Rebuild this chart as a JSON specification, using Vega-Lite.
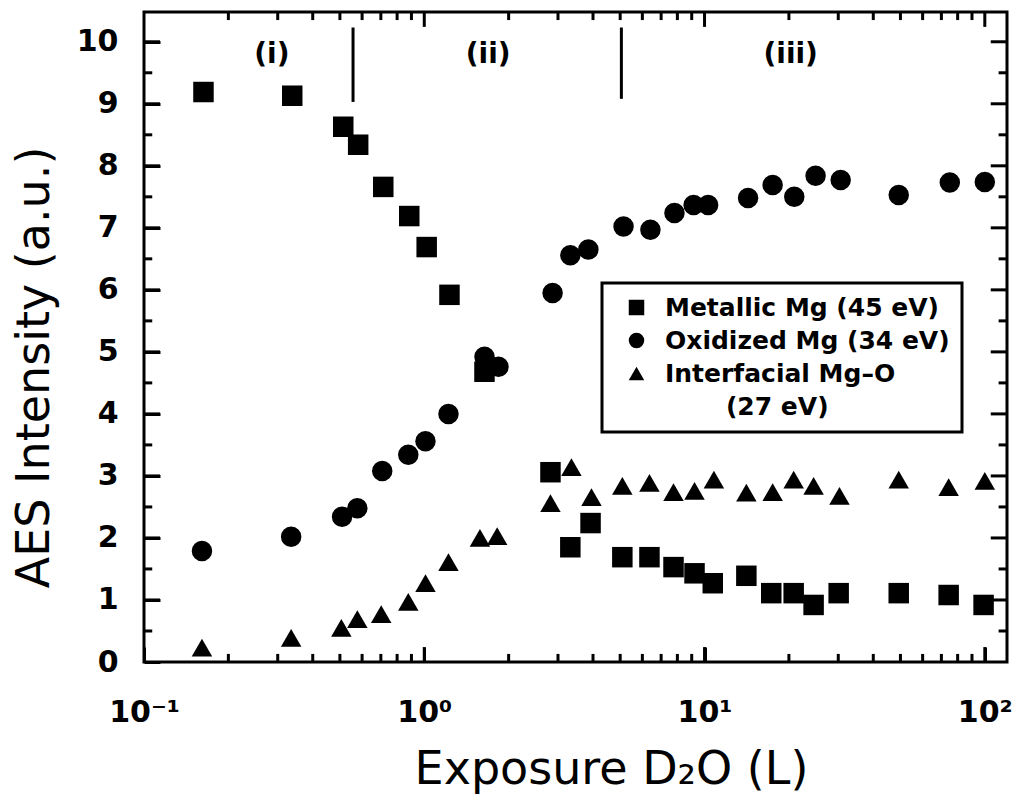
{
  "$schema": "https://vega.github.io/schema/vega-lite/v6.json",
  "width": 863,
  "height": 650,
  "autosize": {"type": "none"},
  "padding": {"left": 144, "top": 12, "right": 23, "bottom": 143},
  "background": "white",
  "config": {
    "view": {"stroke": "black", "strokeWidth": 3, "fill": "transparent"},
    "axis": {"domain": false, "grid": false, "ticks": true, "zindex": 2, "tickColor": "black", "tickWidth": 3, "labelColor": "black", "titleColor": "black",
             "labelFont": "DejaVu Sans", "labelFontWeight": "bold", "labelFontSize": 30,
             "titleFont": "DejaVu Sans", "titleFontWeight": "normal", "titleFontSize": 46},
    "legend": {"strokeWidth": 3},
    "style": {"guide-label": {"lineHeight": 33}}
  },
  "datasets": {
    "pts": [
      {"series": "Metallic Mg (45 eV)", "x": 0.163, "y": 9.19},
      {"series": "Metallic Mg (45 eV)", "x": 0.338, "y": 9.13},
      {"series": "Metallic Mg (45 eV)", "x": 0.514, "y": 8.63},
      {"series": "Metallic Mg (45 eV)", "x": 0.581, "y": 8.34},
      {"series": "Metallic Mg (45 eV)", "x": 0.714, "y": 7.66},
      {"series": "Metallic Mg (45 eV)", "x": 0.884, "y": 7.19},
      {"series": "Metallic Mg (45 eV)", "x": 1.02, "y": 6.69},
      {"series": "Metallic Mg (45 eV)", "x": 1.23, "y": 5.92},
      {"series": "Metallic Mg (45 eV)", "x": 1.64, "y": 4.68},
      {"series": "Metallic Mg (45 eV)", "x": 2.82, "y": 3.06},
      {"series": "Metallic Mg (45 eV)", "x": 3.32, "y": 1.85},
      {"series": "Metallic Mg (45 eV)", "x": 3.92, "y": 2.24},
      {"series": "Metallic Mg (45 eV)", "x": 5.09, "y": 1.69},
      {"series": "Metallic Mg (45 eV)", "x": 6.36, "y": 1.69},
      {"series": "Metallic Mg (45 eV)", "x": 7.75, "y": 1.53},
      {"series": "Metallic Mg (45 eV)", "x": 9.21, "y": 1.43},
      {"series": "Metallic Mg (45 eV)", "x": 10.7, "y": 1.27},
      {"series": "Metallic Mg (45 eV)", "x": 14.1, "y": 1.39},
      {"series": "Metallic Mg (45 eV)", "x": 17.3, "y": 1.11},
      {"series": "Metallic Mg (45 eV)", "x": 20.8, "y": 1.11},
      {"series": "Metallic Mg (45 eV)", "x": 24.5, "y": 0.92},
      {"series": "Metallic Mg (45 eV)", "x": 30.1, "y": 1.11},
      {"series": "Metallic Mg (45 eV)", "x": 49.3, "y": 1.11},
      {"series": "Metallic Mg (45 eV)", "x": 74.3, "y": 1.08},
      {"series": "Metallic Mg (45 eV)", "x": 99, "y": 0.92},
      {"series": "Oxidized Mg (34 eV)", "x": 0.161, "y": 1.79},
      {"series": "Oxidized Mg (34 eV)", "x": 0.335, "y": 2.02},
      {"series": "Oxidized Mg (34 eV)", "x": 0.509, "y": 2.34},
      {"series": "Oxidized Mg (34 eV)", "x": 0.577, "y": 2.48},
      {"series": "Oxidized Mg (34 eV)", "x": 0.708, "y": 3.08},
      {"series": "Oxidized Mg (34 eV)", "x": 0.877, "y": 3.34},
      {"series": "Oxidized Mg (34 eV)", "x": 1.01, "y": 3.56},
      {"series": "Oxidized Mg (34 eV)", "x": 1.22, "y": 4.0},
      {"series": "Oxidized Mg (34 eV)", "x": 1.64, "y": 4.92},
      {"series": "Oxidized Mg (34 eV)", "x": 1.84, "y": 4.76},
      {"series": "Oxidized Mg (34 eV)", "x": 2.87, "y": 5.95},
      {"series": "Oxidized Mg (34 eV)", "x": 3.32, "y": 6.56},
      {"series": "Oxidized Mg (34 eV)", "x": 3.85, "y": 6.65},
      {"series": "Oxidized Mg (34 eV)", "x": 5.14, "y": 7.02},
      {"series": "Oxidized Mg (34 eV)", "x": 6.41, "y": 6.97},
      {"series": "Oxidized Mg (34 eV)", "x": 7.81, "y": 7.24},
      {"series": "Oxidized Mg (34 eV)", "x": 9.14, "y": 7.37},
      {"series": "Oxidized Mg (34 eV)", "x": 10.3, "y": 7.37},
      {"series": "Oxidized Mg (34 eV)", "x": 14.3, "y": 7.48},
      {"series": "Oxidized Mg (34 eV)", "x": 17.5, "y": 7.69},
      {"series": "Oxidized Mg (34 eV)", "x": 20.9, "y": 7.5},
      {"series": "Oxidized Mg (34 eV)", "x": 24.9, "y": 7.84},
      {"series": "Oxidized Mg (34 eV)", "x": 30.6, "y": 7.77},
      {"series": "Oxidized Mg (34 eV)", "x": 49.3, "y": 7.53},
      {"series": "Oxidized Mg (34 eV)", "x": 75, "y": 7.73},
      {"series": "Oxidized Mg (34 eV)", "x": 100, "y": 7.74},
      {"series": "Interfacial Mg–O (27 eV)", "x": 0.161, "y": 0.23},
      {"series": "Interfacial Mg–O (27 eV)", "x": 0.335, "y": 0.39},
      {"series": "Interfacial Mg–O (27 eV)", "x": 0.506, "y": 0.55},
      {"series": "Interfacial Mg–O (27 eV)", "x": 0.577, "y": 0.69},
      {"series": "Interfacial Mg–O (27 eV)", "x": 0.702, "y": 0.77},
      {"series": "Interfacial Mg–O (27 eV)", "x": 0.877, "y": 0.97},
      {"series": "Interfacial Mg–O (27 eV)", "x": 1.01, "y": 1.27},
      {"series": "Interfacial Mg–O (27 eV)", "x": 1.22, "y": 1.61},
      {"series": "Interfacial Mg–O (27 eV)", "x": 1.58, "y": 2.0},
      {"series": "Interfacial Mg–O (27 eV)", "x": 1.82, "y": 2.03},
      {"series": "Interfacial Mg–O (27 eV)", "x": 2.82, "y": 2.56},
      {"series": "Interfacial Mg–O (27 eV)", "x": 3.35, "y": 3.14},
      {"series": "Interfacial Mg–O (27 eV)", "x": 3.95, "y": 2.66},
      {"series": "Interfacial Mg–O (27 eV)", "x": 5.09, "y": 2.84},
      {"series": "Interfacial Mg–O (27 eV)", "x": 6.36, "y": 2.89},
      {"series": "Interfacial Mg–O (27 eV)", "x": 7.75, "y": 2.74},
      {"series": "Interfacial Mg–O (27 eV)", "x": 9.21, "y": 2.76},
      {"series": "Interfacial Mg–O (27 eV)", "x": 10.8, "y": 2.94},
      {"series": "Interfacial Mg–O (27 eV)", "x": 14.1, "y": 2.73},
      {"series": "Interfacial Mg–O (27 eV)", "x": 17.5, "y": 2.74},
      {"series": "Interfacial Mg–O (27 eV)", "x": 20.8, "y": 2.94},
      {"series": "Interfacial Mg–O (27 eV)", "x": 24.5, "y": 2.84},
      {"series": "Interfacial Mg–O (27 eV)", "x": 30.3, "y": 2.68},
      {"series": "Interfacial Mg–O (27 eV)", "x": 49.3, "y": 2.94},
      {"series": "Interfacial Mg–O (27 eV)", "x": 74.3, "y": 2.82},
      {"series": "Interfacial Mg–O (27 eV)", "x": 100, "y": 2.92}
    ],
    "dividers": [
      {"x": 0.557, "y": 9.03, "y2": 10.23},
      {"x": 5.05, "y": 9.08, "y2": 10.23}
    ],
    "regions": [
      {"label": "(i)", "x": 0.286, "y": 9.79},
      {"label": "(ii)", "x": 1.69, "y": 9.79},
      {"label": "(iii)", "x": 20.3, "y": 9.79}
    ],
    "xticks": [
      {"v": 0.2, "kind": "minor"}, {"v": 0.3, "kind": "minor"}, {"v": 0.4, "kind": "minor"}, {"v": 0.5, "kind": "minor"},
      {"v": 0.6, "kind": "minor"}, {"v": 0.7, "kind": "minor"}, {"v": 0.8, "kind": "minor"}, {"v": 0.9, "kind": "minor"},
      {"v": 1, "kind": "major"},
      {"v": 2, "kind": "minor"}, {"v": 3, "kind": "minor"}, {"v": 4, "kind": "minor"}, {"v": 5, "kind": "minor"},
      {"v": 6, "kind": "minor"}, {"v": 7, "kind": "minor"}, {"v": 8, "kind": "minor"}, {"v": 9, "kind": "minor"},
      {"v": 10, "kind": "major"},
      {"v": 20, "kind": "minor"}, {"v": 30, "kind": "minor"}, {"v": 40, "kind": "minor"}, {"v": 50, "kind": "minor"},
      {"v": 60, "kind": "minor"}, {"v": 70, "kind": "minor"}, {"v": 80, "kind": "minor"}, {"v": 90, "kind": "minor"},
      {"v": 100, "kind": "major"}
    ],
    "yticks": [
      {"v": 0.5, "kind": "minor"}, {"v": 1, "kind": "major"}, {"v": 1.5, "kind": "minor"}, {"v": 2, "kind": "major"},
      {"v": 2.5, "kind": "minor"}, {"v": 3, "kind": "major"}, {"v": 3.5, "kind": "minor"}, {"v": 4, "kind": "major"},
      {"v": 4.5, "kind": "minor"}, {"v": 5, "kind": "major"}, {"v": 5.5, "kind": "minor"}, {"v": 6, "kind": "major"},
      {"v": 6.5, "kind": "minor"}, {"v": 7, "kind": "major"}, {"v": 7.5, "kind": "minor"}, {"v": 8, "kind": "major"},
      {"v": 8.5, "kind": "minor"}, {"v": 9, "kind": "major"}, {"v": 9.5, "kind": "minor"}, {"v": 10, "kind": "major"}
    ]
  },
  "resolve": {"axis": {"x": "independent", "y": "independent"}},
  "layer": [
    {
      "data": {"name": "pts"},
      "mark": {"type": "point", "filled": true, "opacity": 1, "color": "black", "size": 420},
      "encoding": {
        "x": {"field": "x", "type": "quantitative",
              "scale": {"type": "log", "domain": [0.1, 120], "nice": false},
              "axis": {"orient": "bottom", "title": "Exposure D₂O (L)", "zindex": 2,
                       "values": [0.1, 1, 10, 100],
                       "labelExpr": "datum.value == 0.1 ? '10⁻¹' : datum.value == 1 ? '10⁰' : datum.value == 10 ? '10¹' : datum.value == 100 ? '10²' : ''",
                       "tickSize": 15, "offset": -15,
                       "labelPadding": 35, "labelFlush": false, "labelOverlap": false,
                       "titleX": 467, "titleY": 136, "titleBaseline": "alphabetic"}},
        "y": {"field": "y", "type": "quantitative",
              "scale": {"domain": [0, 10.48], "nice": false, "zero": false},
              "axis": {"orient": "left", "title": "AES Intensity (a.u.)", "zindex": 2,
                       "values": [0,1,2,3,4,5,6,7,8,9,10],
                       "tickSize": 16, "offset": -16,
                       "labelPadding": 26, "labelFlush": false, "labelOverlap": false,
                       "titleX": -126, "titleY": 355, "titleBaseline": "middle", "titleAngle": -90}},
        "shape": {"field": "series", "type": "nominal",
                  "scale": {"domain": ["Metallic Mg (45 eV)", "Oxidized Mg (34 eV)", "Interfacial Mg–O (27 eV)"],
                            "range": ["square", "circle", "triangle-up"]},
                  "legend": {"title": null, "orient": "none", "legendX": 458, "legendY": 271,
                             "strokeColor": "black", "padding": 12, "rowPadding": 7,
                             "labelFont": "DejaVu Sans", "labelFontWeight": "bold", "labelFontSize": 25, "labelColor": "black",
                             "symbolSize": 240, "symbolFillColor": "black", "symbolStrokeColor": "black", "symbolStrokeWidth": 0,
                             "symbolOffset": 10, "labelLimit": 400, "labelOffset": 16,
                             "labelExpr": "datum.label == 'Interfacial Mg–O (27 eV)' ? ['Interfacial Mg–O', '\u200b\u00a0\u00a0\u00a0\u00a0\u00a0\u00a0\u00a0(27 eV)'] : datum.label"}}
      }
    },
    {
      "data": {"name": "dividers"},
      "mark": {"type": "rule", "color": "black", "strokeWidth": 3},
      "encoding": {
        "x": {"field": "x", "type": "quantitative", "scale": {"type": "log", "domain": [0.1, 120], "nice": false}, "axis": null},
        "y": {"field": "y", "type": "quantitative", "scale": {"domain": [0, 10.48], "nice": false, "zero": false}, "axis": null},
        "y2": {"field": "y2"}
      }
    },
    {
      "data": {"name": "regions"},
      "mark": {"type": "text", "font": "DejaVu Sans", "fontWeight": "bold", "fontSize": 28, "color": "black", "baseline": "middle", "align": "center"},
      "encoding": {
        "x": {"field": "x", "type": "quantitative", "scale": {"type": "log", "domain": [0.1, 120], "nice": false}, "axis": null},
        "y": {"field": "y", "type": "quantitative", "scale": {"domain": [0, 10.48], "nice": false, "zero": false}, "axis": null},
        "text": {"field": "label"}
      }
    },
    {
      "data": {"name": "xticks"},
      "transform": [{"filter": "datum.kind == 'major'"}],
      "mark": {"type": "rule", "color": "black", "strokeWidth": 3},
      "encoding": {
        "x": {"field": "v", "type": "quantitative", "scale": {"type": "log", "domain": [0.1, 120], "nice": false}, "axis": null},
        "y": {"datum": 0, "type": "quantitative", "scale": {"domain": [0, 10.48], "nice": false, "zero": false}, "axis": null},
        "y2": {"datum": 0.24}
      }
    },
    {
      "data": {"name": "xticks"},
      "transform": [{"filter": "datum.kind == 'minor'"}],
      "mark": {"type": "rule", "color": "black", "strokeWidth": 3},
      "encoding": {
        "x": {"field": "v", "type": "quantitative", "scale": {"type": "log", "domain": [0.1, 120], "nice": false}, "axis": null},
        "y": {"datum": 0, "type": "quantitative", "scale": {"domain": [0, 10.48], "nice": false, "zero": false}, "axis": null},
        "y2": {"datum": 0.13}
      }
    },
    {
      "data": {"name": "xticks"},
      "transform": [{"filter": "datum.kind == 'major'"}],
      "mark": {"type": "rule", "color": "black", "strokeWidth": 3},
      "encoding": {
        "x": {"field": "v", "type": "quantitative", "scale": {"type": "log", "domain": [0.1, 120], "nice": false}, "axis": null},
        "y": {"datum": 10.48, "type": "quantitative", "scale": {"domain": [0, 10.48], "nice": false, "zero": false}, "axis": null},
        "y2": {"datum": 10.24}
      }
    },
    {
      "data": {"name": "xticks"},
      "transform": [{"filter": "datum.kind == 'minor'"}],
      "mark": {"type": "rule", "color": "black", "strokeWidth": 3},
      "encoding": {
        "x": {"field": "v", "type": "quantitative", "scale": {"type": "log", "domain": [0.1, 120], "nice": false}, "axis": null},
        "y": {"datum": 10.48, "type": "quantitative", "scale": {"domain": [0, 10.48], "nice": false, "zero": false}, "axis": null},
        "y2": {"datum": 10.35}
      }
    },
    {
      "data": {"name": "yticks"},
      "transform": [{"filter": "datum.kind == 'major'"}],
      "mark": {"type": "rule", "color": "black", "strokeWidth": 3},
      "encoding": {
        "y": {"field": "v", "type": "quantitative", "scale": {"domain": [0, 10.48], "nice": false, "zero": false}, "axis": null},
        "x": {"datum": 0.1, "type": "quantitative", "scale": {"type": "log", "domain": [0.1, 120], "nice": false}, "axis": null},
        "x2": {"datum": 0.114}
      }
    },
    {
      "data": {"name": "yticks"},
      "transform": [{"filter": "datum.kind == 'minor'"}],
      "mark": {"type": "rule", "color": "black", "strokeWidth": 3},
      "encoding": {
        "y": {"field": "v", "type": "quantitative", "scale": {"domain": [0, 10.48], "nice": false, "zero": false}, "axis": null},
        "x": {"datum": 0.1, "type": "quantitative", "scale": {"type": "log", "domain": [0.1, 120], "nice": false}, "axis": null},
        "x2": {"datum": 0.107}
      }
    },
    {
      "data": {"name": "yticks"},
      "transform": [{"filter": "datum.kind == 'major'"}],
      "mark": {"type": "rule", "color": "black", "strokeWidth": 3},
      "encoding": {
        "y": {"field": "v", "type": "quantitative", "scale": {"domain": [0, 10.48], "nice": false, "zero": false}, "axis": null},
        "x": {"datum": 120, "type": "quantitative", "scale": {"type": "log", "domain": [0.1, 120], "nice": false}, "axis": null},
        "x2": {"datum": 105}
      }
    },
    {
      "data": {"name": "yticks"},
      "transform": [{"filter": "datum.kind == 'minor'"}],
      "mark": {"type": "rule", "color": "black", "strokeWidth": 3},
      "encoding": {
        "y": {"field": "v", "type": "quantitative", "scale": {"domain": [0, 10.48], "nice": false, "zero": false}, "axis": null},
        "x": {"datum": 120, "type": "quantitative", "scale": {"type": "log", "domain": [0.1, 120], "nice": false}, "axis": null},
        "x2": {"datum": 112}
      }
    }
  ]
}
